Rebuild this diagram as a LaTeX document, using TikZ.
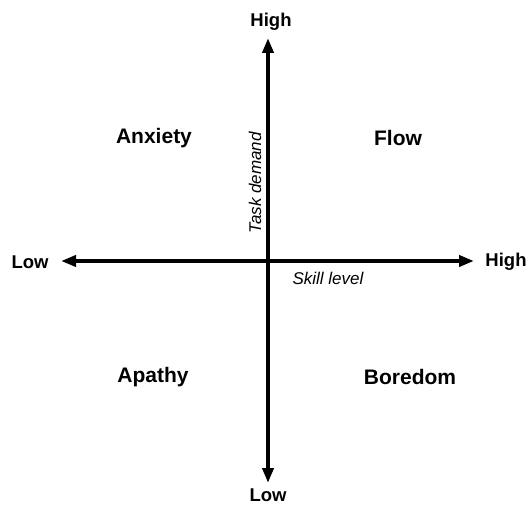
\documentclass[tikz,border=0pt]{standalone}
\usepackage{fontspec}
\setmainfont{Liberation Sans}
\usetikzlibrary{arrows.meta,positioning}

\tikzset{
    axisline/.style={line width=3.8pt, -{Triangle[length=15pt,width=11pt]}},
    endlabel/.style={font=\fontsize{18.5}{21}\selectfont\bfseries},
    zonelabel/.style={font=\fontsize{21}{24}\selectfont\bfseries},
    axislabel/.style={font=\fontsize{17}{19}\selectfont\itshape}
}

\begin{document}
\begin{tikzpicture}[x=1pt,y=-1pt]
    % Canvas
    \useasboundingbox (0,0) rectangle (528,505);

    % Axis end points
    \coordinate (origin) at (268,261);
    \coordinate (top) at (268,38);
    \coordinate (bottom) at (268,483);
    \coordinate (left) at (61,261);
    \coordinate (right) at (474,261);

    % Axes
    \draw[axisline] (origin) -- (top);
    \draw[axisline] (origin) -- (bottom);
    \draw[axisline] (origin) -- (left);
    \draw[axisline] (origin) -- (right);

    % End labels
    \node[endlabel] (highY) at (271,22) {High};
    \node[endlabel] (lowY) at (268,495) {Low};
    \node[endlabel] (lowX) at (30,262) {Low};
    \node[endlabel] (highX) at (506,262) {High};

    % Axis names
    \node[axislabel, rotate=90] (demand) at (255,183) {Task demand};
    \node[axislabel] (skill) at (328,278) {Skill level};

    % Quadrants
    \node[zonelabel] (anxiety) at (154,138) {Anxiety};
    \node[zonelabel] (flow) at (398,138) {Flow};
    \node[zonelabel] (apathy) at (153,377) {Apathy};
    \node[zonelabel] (boredom) at (410,377) {Boredom};
\end{tikzpicture}
\end{document}
